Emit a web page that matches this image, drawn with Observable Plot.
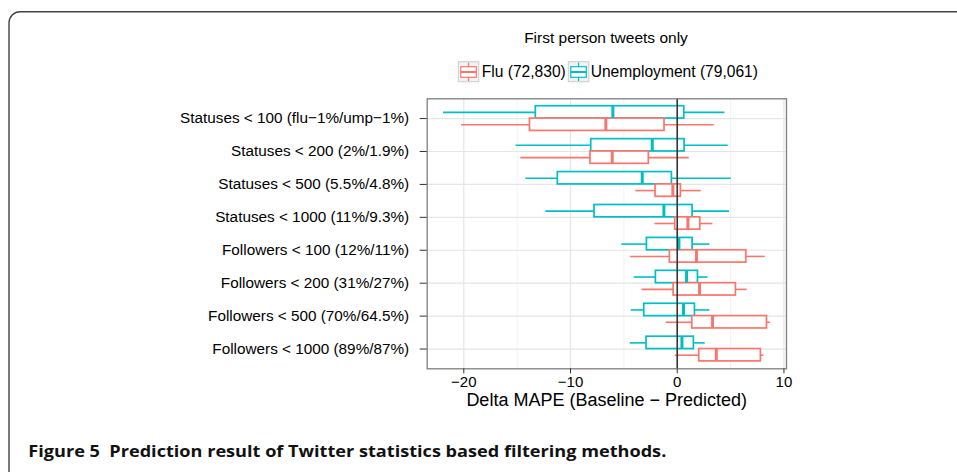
<!DOCTYPE html>
<html>
<head>
<meta charset="utf-8">
<script src="https://cdn.jsdelivr.net/npm/d3@7"></script>
<script src="https://cdn.jsdelivr.net/npm/@observablehq/plot@0.6"></script>
<style>
  body { margin: 0; background: white; }
  #wrap { position: relative; width: 957px; height: 472px; overflow: hidden; background: white; }
  #chart { position: absolute; left: 0; top: 0; }
  #overlay { position: absolute; left: 0; top: 0; pointer-events: none; }
</style>
</head>
<body>
<div id="wrap">
  <div id="chart"></div>
  <svg id="overlay" width="957" height="472"></svg>
</div>
<script>
// ---- Data ----
const categories = [
  "Statuses < 100 (flu\u22121%/ump\u22121%)",
  "Statuses < 200 (2%/1.9%)",
  "Statuses < 500 (5.5%/4.8%)",
  "Statuses < 1000 (11%/9.3%)",
  "Followers < 100 (12%/11%)",
  "Followers < 200 (31%/27%)",
  "Followers < 500 (70%/64.5%)",
  "Followers < 1000 (89%/87%)"
];
const seriesNames = ["Flu (72,830)", "Unemployment (79,061)"];
const seriesColors = ["#F8766D", "#00BFC4"];

// Unemployment: lower whisker, Q1, median, Q3, upper whisker
const unempLow    = [-21.9, -15.1, -14.19, -12.31, -5.19, -4.03, -4.31, -4.41];
const unempQ1     = [-13.25, -8.06, -11.19, -7.75, -2.84, -2.0, -3.09, -2.875];
const unempMedian = [-6.03, -2.34, -3.28, -1.25, 0.16, 0.875, 0.59, 0.44];
const unempQ3     = [0.66, 0.69, -0.5, 1.44, 1.44, 1.94, 1.66, 1.56];
const unempHigh   = [4.47, 4.78, 5.06, 4.9, 3.06, 2.875, 3.06, 2.625];

// Flu
const fluLow    = [-20.2, -14.66, -3.875, -2.09, -4.375, -3.31, -1.03, -0.19];
const fluQ1     = [-13.8, -8.13, -2.03, -0.19, -0.69, -0.34, 1.41, 2.06];
const fluMedian = [-6.69, -6.09, -0.41, 1.0, 1.81, 2.09, 3.31, 3.66];
const fluQ3     = [-1.19, -2.66, 0.34, 2.16, 6.47, 5.5, 8.41, 7.84];
const fluHigh   = [3.47, 1.125, 2.25, 3.34, 8.25, 6.56, 8.75, 8.125];

const xTicks = [-20, -10, 0, 10];
const xMinorTicks = [-15, -5, 5];

const titleText = "First person tweets only";
const xLabel = "Delta MAPE (Baseline \u2212 Predicted)";
const captionText = "Figure 5  Prediction result of Twitter statistics based filtering methods.";

// ---- Build table ----
const dodge = 0.375;
const rows = [];
categories.forEach((c, i) => {
  rows.push({series: seriesNames[1], i, lo: unempLow[i], q1: unempQ1[i], med: unempMedian[i], q3: unempQ3[i], hi: unempHigh[i],
             y1: i - dodge, y2: i, yc: i - dodge / 2});
  rows.push({series: seriesNames[0], i, lo: fluLow[i], q1: fluQ1[i], med: fluMedian[i], q3: fluQ3[i], hi: fluHigh[i],
             y1: i, y2: i + dodge, yc: i + dodge / 2});
});

const FONT = "'Liberation Sans', Arial, Helvetica, sans-serif";

const chart = Plot.plot({
  width: 957,
  height: 415,
  marginTop: 98.3,
  marginBottom: 46.7,
  marginLeft: 426.7,
  marginRight: 171,
  style: {background: "transparent", fontFamily: FONT, color: "black"},
  x: {domain: [-23.43, 10.24]},
  y: {domain: [-0.6, categories.length - 1 + 0.6], reverse: true},
  color: {domain: seriesNames, range: seriesColors},
  marks: [
    Plot.ruleX(xMinorTicks, {stroke: "#F2F2F2", strokeWidth: 1}),
    Plot.ruleX(xTicks, {stroke: "#E5E5E5", strokeWidth: 1.2}),
    Plot.ruleY(d3.range(categories.length), {stroke: "#E5E5E5", strokeWidth: 1.2}),
    Plot.ruleY(rows, {y: "yc", x1: "lo", x2: "q1", stroke: "series", strokeWidth: 1.6}),
    Plot.ruleY(rows, {y: "yc", x1: "q3", x2: "hi", stroke: "series", strokeWidth: 1.6}),
    Plot.rect(rows, {x1: "q1", x2: "q3", y1: "y1", y2: "y2", fill: "white", stroke: "series", strokeWidth: 1.7}),
    Plot.ruleX(rows, {x: "med", y1: "y1", y2: "y2", stroke: "series", strokeWidth: 3}),
    Plot.ruleX([0], {stroke: "#333", strokeWidth: 1.6}),
    Plot.frame({stroke: "#7F7F7F", strokeWidth: 1.3}),
    Plot.axisY({ticks: d3.range(categories.length), tickFormat: i => categories[i], tickSize: 7, tickPadding: 11,
                fontSize: 15.3, label: null, stroke: "#333"}),
    Plot.axisX({ticks: xTicks, tickSize: 5, tickPadding: 3, fontSize: 15, label: null, stroke: "#333"})
  ]
});
document.getElementById("chart").appendChild(chart);

// ---- Overlay: border, title, legend, axis title, caption ----
const ov = d3.select("#overlay");
ov.append("path")
  .attr("d", "M 9 480 V 22.7 A 11 11 0 0 1 20 11.7 H 960")
  .attr("fill", "none").attr("stroke", "#444").attr("stroke-width", 1.4);

ov.append("text").text(titleText)
  .attr("x", 606).attr("y", 43.3).attr("text-anchor", "middle")
  .style("font-family", FONT).style("font-size", "15.5px").attr("fill", "black");

const legendItems = [
  {name: seriesNames[0], color: seriesColors[0], kx: 458.3, tx: 481.7},
  {name: seriesNames[1], color: seriesColors[1], kx: 568.3, tx: 590.7}
];
legendItems.forEach(d => {
  const g = ov.append("g");
  g.append("rect").attr("x", d.kx).attr("y", 61.7).attr("width", 20.5).attr("height", 20)
    .attr("fill", "#F2F2F2").attr("stroke", "#CCCCCC").attr("stroke-width", 1);
  g.append("line").attr("x1", d.kx + 10.25).attr("x2", d.kx + 10.25).attr("y1", 62.5).attr("y2", 81)
    .attr("stroke", d.color).attr("stroke-width", 1.2);
  g.append("rect").attr("x", d.kx + 2.5).attr("y", 66.7).attr("width", 15.5).attr("height", 10.6)
    .attr("fill", "white").attr("stroke", d.color).attr("stroke-width", 1.2);
  g.append("line").attr("x1", d.kx + 2.5).attr("x2", d.kx + 18).attr("y1", 72).attr("y2", 72)
    .attr("stroke", d.color).attr("stroke-width", 2);
  g.append("text").text(d.name).attr("x", d.tx).attr("y", 77.3)
    .style("font-family", FONT).style("font-size", "15.6px").attr("fill", "black");
});

ov.append("text").text(xLabel)
  .attr("x", 606.7).attr("y", 406).attr("text-anchor", "middle")
  .style("font-family", FONT).style("font-size", "18px").attr("fill", "black");

ov.append("text").text(captionText)
  .attr("x", 28.3).attr("y", 456.7)
  .attr("textLength", 638).attr("lengthAdjust", "spacingAndGlyphs")
  .attr("xml:space", "preserve").style("white-space", "pre")
  .style("font-family", "'Open Sans', sans-serif").style("font-weight", "700")
  .style("font-size", "15.8px").attr("fill", "#111");
</script>
</body>
</html>
